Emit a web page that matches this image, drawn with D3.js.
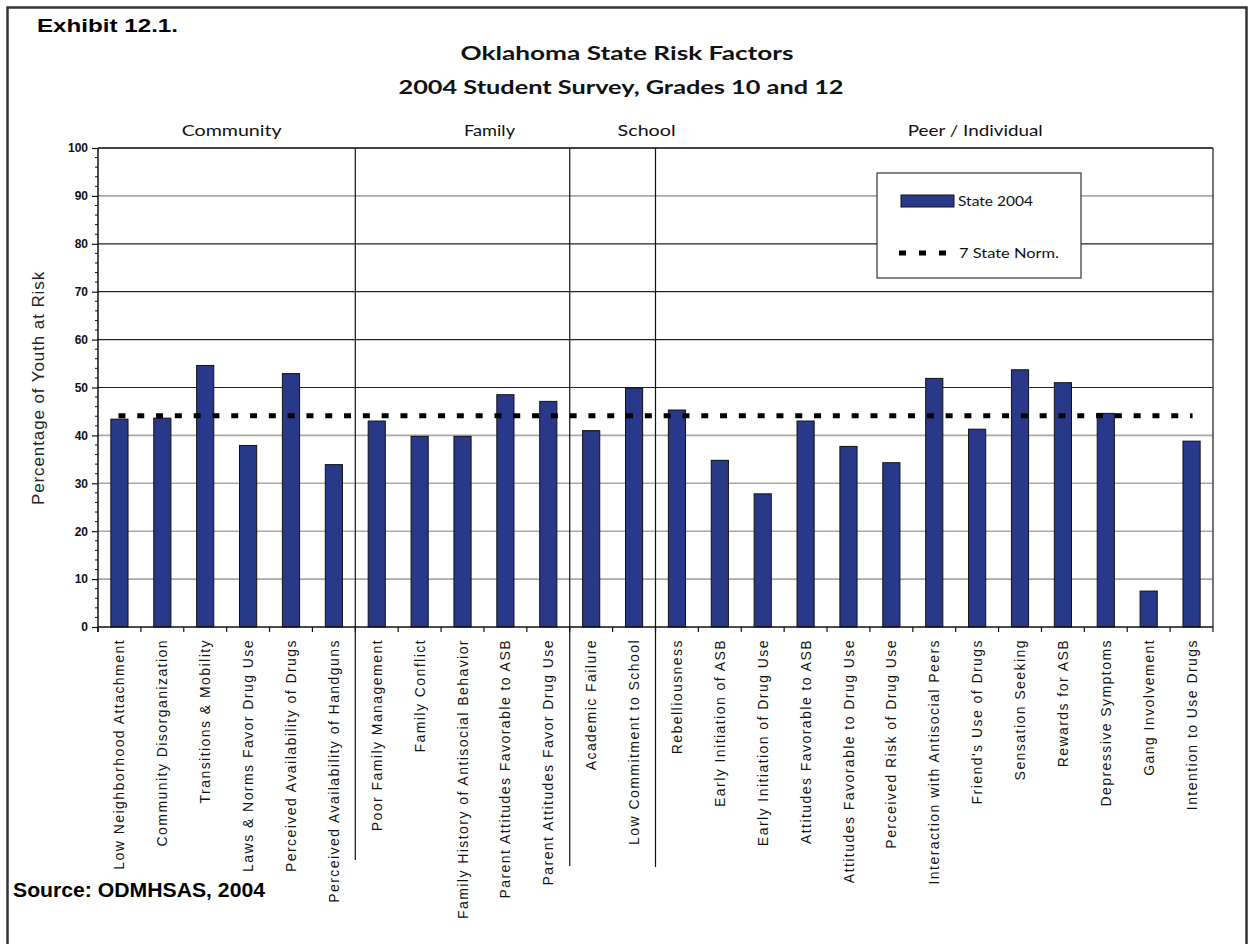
<!DOCTYPE html>
<html>
<head>
<meta charset="utf-8">
<script src="https://cdn.jsdelivr.net/npm/d3@7/dist/d3.min.js"></script>
<style>
  html, body { margin: 0; padding: 0; background: #fff; }
  svg { display: block; }
</style>
</head>
<body>
<svg id="chart" width="1249" height="944"></svg>
<script>
// ---------------- DATA ----------------
const exhibitLabel = "Exhibit 12.1.";
const titleLines = ["Oklahoma State Risk Factors", "2004 Student Survey, Grades 10 and 12"];
const sourceLabel = "Source: ODMHSAS, 2004";
const yAxisTitle = "Percentage of Youth at Risk";

const groupNames = ["Community", "Family", "School", "Peer / Individual"];
const groupSizes = [6, 5, 2, 13];

const categories = [
  "Low Neighborhood Attachment",
  "Community Disorganization",
  "Transitions & Mobility",
  "Laws & Norms Favor Drug Use",
  "Perceived Availability of Drugs",
  "Perceived Availability of Handguns",
  "Poor Family Management",
  "Family Conflict",
  "Family History of Antisocial Behavior",
  "Parent Attitudes Favorable to ASB",
  "Parent Attitudes Favor Drug Use",
  "Academic Failure",
  "Low Commitment to School",
  "Rebelliousness",
  "Early Initiation of ASB",
  "Early Initiation of Drug Use",
  "Attitudes Favorable to ASB",
  "Attitudes Favorable to Drug Use",
  "Perceived Risk of Drug Use",
  "Interaction with Antisocial Peers",
  "Friend's Use of Drugs",
  "Sensation Seeking",
  "Rewards for ASB",
  "Depressive Symptoms",
  "Gang Involvement",
  "Intention to Use Drugs"
];

const state2004 = [
  43.4, 43.6, 54.6, 37.9, 52.9, 33.9,
  43.0, 39.8, 39.8, 48.5, 47.1,
  41.0, 49.9,
  45.3, 34.8, 27.8, 43.0, 37.7, 34.3, 51.9, 41.3, 53.7, 51.0, 44.6, 7.5, 38.8
];

const sevenStateNorm = 44.1;

const yTickValues = [0, 10, 20, 30, 40, 50, 60, 70, 80, 90, 100];
const legendLabels = ["State 2004", "7 State Norm."];

// ---------------- LAYOUT ----------------
const plot = { left: 98, right: 1213, top: 148, bottom: 627 };
const barColor = "#29398a";
const arial = "'Liberation Sans', Arial, Helvetica, sans-serif";
const gill = "Lato, 'Open Sans', sans-serif";

const svg = d3.select("#chart");
svg.append("rect").attr("width", 1249).attr("height", 944).attr("fill", "#fff");

const x = d3.scaleBand()
  .domain(categories)
  .range([plot.left, plot.right])
  .paddingInner(0.6)
  .paddingOuter(0.3);

const y = d3.scaleLinear().domain([0, 100]).range([plot.bottom, plot.top]);

// Gridlines
const gridStyle = v => {
  if (v === 100) return { c: "#444", w: 2 };
  if (v >= 50 && v <= 80) return { c: "#222", w: 1.2 };
  return { c: "#a8a8a8", w: 1.6 };
};
svg.append("g").selectAll("line")
  .data(yTickValues.filter(v => v > 0))
  .join("line")
  .attr("x1", plot.left).attr("x2", plot.right)
  .attr("y1", d => y(d)).attr("y2", d => y(d))
  .attr("stroke", d => gridStyle(d).c)
  .attr("stroke-width", d => gridStyle(d).w);

// Right border of plot
svg.append("line")
  .attr("x1", plot.right).attr("x2", plot.right)
  .attr("y1", y(100)).attr("y2", y(0))
  .attr("stroke", "#444").attr("stroke-width", 1.5);

// Group separators
let cum = 0;
const boundaries = [];
groupSizes.forEach((n, i) => { cum += n; if (i < groupSizes.length - 1) boundaries.push(cum); });
const step = x.step();
const sepBottom = [860, 866, 867];
svg.append("g").selectAll("line")
  .data(boundaries)
  .join("line")
  .attr("x1", d => plot.left + d * step).attr("x2", d => plot.left + d * step)
  .attr("y1", y(100)).attr("y2", (d, i) => sepBottom[i])
  .attr("stroke", "#111").attr("stroke-width", 1.2);

// Bars
svg.append("g").selectAll("rect")
  .data(categories.map((c, i) => ({ c, v: state2004[i] })))
  .join("rect")
  .attr("x", d => x(d.c))
  .attr("width", x.bandwidth())
  .attr("y", d => y(d.v))
  .attr("height", d => y(0) - y(d.v))
  .attr("fill", barColor)
  .attr("stroke", "#111")
  .attr("stroke-width", 1);

// Norm line
const firstC = x(categories[0]) + x.bandwidth() / 2;
const lastC = x(categories[categories.length - 1]) + x.bandwidth() / 2;
svg.append("line")
  .attr("x1", firstC - 1).attr("x2", lastC + 1)
  .attr("y1", y(sevenStateNorm)).attr("y2", y(sevenStateNorm))
  .attr("stroke", "#000").attr("stroke-width", 5)
  .attr("stroke-dasharray", "7,11.8");

// Y axis
const yAxis = d3.axisLeft(y).tickValues(yTickValues).tickSize(6).tickPadding(5);
const yg = svg.append("g").attr("transform", `translate(${plot.left},0)`).call(yAxis);
yg.select(".domain").attr("stroke", "#111").attr("stroke-width", 1.5)
  .attr("d", `M0,${y(100)}V${y(0) + 5}`);
yg.selectAll(".tick line").attr("stroke", "#111").attr("stroke-width", 1.2);
yg.selectAll(".tick text")
  .attr("font-family", arial).attr("font-size", 12).attr("font-weight", "bold")
  .attr("fill", "#111").attr("x", -10);
// minor ticks
svg.append("g").selectAll("line")
  .data(d3.range(0, 101, 2).filter(v => v % 10 !== 0))
  .join("line")
  .attr("x1", plot.left - 3).attr("x2", plot.left)
  .attr("y1", d => y(d)).attr("y2", d => y(d))
  .attr("stroke", "#111").attr("stroke-width", 1);

// X axis
svg.append("line")
  .attr("x1", plot.left).attr("x2", plot.right)
  .attr("y1", y(0)).attr("y2", y(0))
  .attr("stroke", "#111").attr("stroke-width", 1.5);
svg.append("g").selectAll("line")
  .data(d3.range(0, categories.length + 1))
  .join("line")
  .attr("x1", d => plot.left + d * step).attr("x2", d => plot.left + d * step)
  .attr("y1", y(0)).attr("y2", y(0) + 5)
  .attr("stroke", "#111").attr("stroke-width", 1.2);

// X labels
svg.append("g").selectAll("text")
  .data(categories)
  .join("text")
  .attr("transform", d => `translate(${x(d) + x.bandwidth() / 2}, ${y(0) + 12}) rotate(-90)`)
  .attr("dy", "0.36em")
  .attr("text-anchor", "end")
  .attr("font-family", arial)
  .attr("font-size", 14)
  .attr("letter-spacing", "1.45px")
  .attr("fill", "#111")
  .text(d => d);

// Y title
svg.append("text")
  .attr("transform", `translate(38, 388) rotate(-90)`)
  .attr("dy", "0.35em")
  .attr("text-anchor", "middle")
  .attr("font-family", arial)
  .attr("font-size", 17)
  .attr("letter-spacing", "0.9px")
  .attr("fill", "#222")
  .text(yAxisTitle);

// Group labels
const groupLabelOffsets = [5, 27, 34, 41];
const groupLabelLengths = [100, 51, 58, 135];
let start = 0;
groupNames.forEach((g, i) => {
  const cx = plot.left + (start + groupSizes[i] / 2) * step + groupLabelOffsets[i];
  start += groupSizes[i];
  svg.append("text")
    .attr("x", cx).attr("y", 136)
    .attr("text-anchor", "middle")
    .attr("font-family", gill).attr("font-size", 16)
    .attr("textLength", groupLabelLengths[i]).attr("lengthAdjust", "spacingAndGlyphs")
    .attr("fill", "#111")
    .text(g);
});

// Titles
svg.append("text")
  .attr("x", 627).attr("y", 60).attr("text-anchor", "middle")
  .attr("font-family", gill).attr("font-size", 19).attr("font-weight", 700)
  .attr("textLength", 333).attr("lengthAdjust", "spacingAndGlyphs")
  .attr("fill", "#111").text(titleLines[0]);
svg.append("text")
  .attr("x", 621).attr("y", 94).attr("text-anchor", "middle")
  .attr("font-family", gill).attr("font-size", 19).attr("font-weight", 700)
  .attr("textLength", 445).attr("lengthAdjust", "spacingAndGlyphs")
  .attr("fill", "#111").text(titleLines[1]);

svg.append("text")
  .attr("x", 37).attr("y", 32)
  .attr("font-family", arial).attr("font-size", 19).attr("font-weight", "bold")
  .attr("textLength", 141).attr("lengthAdjust", "spacingAndGlyphs")
  .attr("fill", "#000").text(exhibitLabel);

svg.append("text")
  .attr("x", 13).attr("y", 897)
  .attr("font-family", arial).attr("font-size", 20).attr("font-weight", "bold")
  .attr("textLength", 252).attr("lengthAdjust", "spacingAndGlyphs")
  .attr("fill", "#000").text(sourceLabel);

// Legend
const lg = svg.append("g");
lg.append("rect")
  .attr("x", 877).attr("y", 173).attr("width", 204).attr("height", 105)
  .attr("fill", "#fff").attr("stroke", "#333").attr("stroke-width", 1.2);
lg.append("rect")
  .attr("x", 901).attr("y", 195).attr("width", 53).attr("height", 12)
  .attr("fill", barColor).attr("stroke", "#111").attr("stroke-width", 1);
lg.append("line")
  .attr("x1", 899).attr("x2", 949).attr("y1", 253).attr("y2", 253)
  .attr("stroke", "#000").attr("stroke-width", 5).attr("stroke-dasharray", "7,13");
lg.append("text")
  .attr("x", 958).attr("y", 206)
  .attr("font-family", gill).attr("font-size", 14)
  .attr("textLength", 75).attr("lengthAdjust", "spacingAndGlyphs")
  .attr("fill", "#111").text(legendLabels[0]);
lg.append("text")
  .attr("x", 959).attr("y", 258)
  .attr("font-family", gill).attr("font-size", 14)
  .attr("textLength", 100).attr("lengthAdjust", "spacingAndGlyphs")
  .attr("fill", "#111").text(legendLabels[1]);

// Outer frame
svg.append("rect")
  .attr("x", 7.5).attr("y", 7.5).attr("width", 1239).attr("height", 945)
  .attr("fill", "none").attr("stroke", "#333").attr("stroke-width", 2.5);
</script>
</body>
</html>
